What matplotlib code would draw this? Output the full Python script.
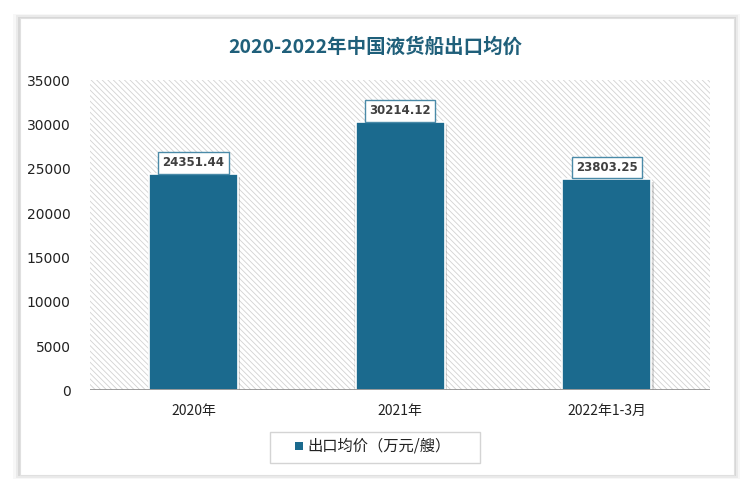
import numpy as np
import matplotlib.pyplot as plt
from matplotlib.patches import Rectangle

plt.rcParams['font.family'] = ['Noto Sans CJK SC', 'DejaVu Sans']
plt.rcParams['hatch.linewidth'] = 0.6

# data
categories = ['2020年', '2021年', '2022年1-3月']
values = [24351.44, 30214.12, 23803.25]
series_name = '出口均价（万元/艘）'
title = '2020-2022年中国液货船出口均价'

bar_color = '#1b6a8e'
title_color = '#1f5f7a'

fig = plt.figure(figsize=(7.5, 4.91), dpi=100)

# card with shadow
for i, a in enumerate([0.03, 0.05, 0.08]):
    d = (3 - i) * 0.003
    fig.patches.append(Rectangle((0.027 - d, 0.033 - d), 0.951 + 2 * d, 0.93 + 2 * d,
                                 transform=fig.transFigure, facecolor='#000000',
                                 alpha=a, edgecolor='none', zorder=-3))
fig.patches.append(Rectangle((0.027, 0.033), 0.951, 0.93, transform=fig.transFigure,
                             facecolor='white', edgecolor='#e0e0e0', lw=0.8, zorder=-2))

fig.text(0.5, 0.905, title, ha='center', va='center', fontsize=14,
         color=title_color, fontweight='bold')

ax = fig.add_axes([0.12, 0.205, 0.827, 0.632])
ax.set_facecolor('none')
ax.set_xlim(-0.5, 2.5)
ax.set_ylim(0, 35000)

# hatched plot area
ax.add_patch(Rectangle((0, 0), 1, 1, transform=ax.transAxes, facecolor='white',
                       edgecolor='#d2d2d2', lw=0, hatch='\\\\\\\\\\\\', zorder=0))

x = np.arange(len(categories))
w = 0.43
# shadow
ax.bar(x + 0.012, np.array(values) - 250, width=w, color='#000000', alpha=0.15,
       zorder=2, bottom=0)
ax.bar(x - 0.006, np.array(values) - 250, width=w, color='#000000', alpha=0.08,
       zorder=2, bottom=0)
ax.bar(x, values, width=w, color=bar_color, edgecolor='white', lw=1.2, zorder=3)

for xi, v in zip(x, values):
    ax.text(xi, v + 1300, f'{v:.2f}', ha='center', va='center', fontsize=8.5,
            fontweight='bold', color='#404040', family='DejaVu Sans', zorder=5,
            bbox=dict(boxstyle='square,pad=0.35', facecolor='white',
                      edgecolor='#4a8aa8', lw=1.0))

ax.axhline(0, color='#8c8c8c', lw=1.2, zorder=4)

for s in ax.spines.values():
    s.set_visible(False)
ax.set_yticks(np.arange(0, 35001, 5000))
ax.set_xticks(x)
ax.set_xticklabels(categories, fontsize=10, color='#222222')
ax.tick_params(axis='y', labelsize=10, length=0, pad=14, labelcolor='#222222')
ax.tick_params(axis='x', length=0, pad=10)
for lab in ax.get_yticklabels():
    lab.set_family('DejaVu Sans')

# legend
fig.patches.append(Rectangle((0.36, 0.058), 0.28, 0.063, transform=fig.transFigure,
                             facecolor='white', edgecolor='#d4d4d4', lw=1.0, zorder=2))
fig.patches.append(Rectangle((0.393, 0.083), 0.011, 0.016, transform=fig.transFigure,
                             facecolor=bar_color, edgecolor='none', zorder=3))
fig.text(0.41, 0.091, series_name, ha='left', va='center', fontsize=11, color='#222222')

fig.savefig('out.png', dpi=100)
